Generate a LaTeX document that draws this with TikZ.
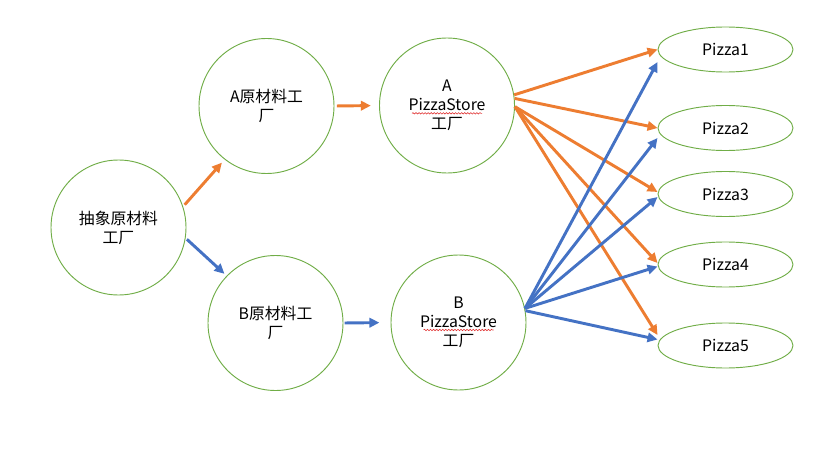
\documentclass[tikz,border=0pt]{standalone}
\usepackage{fontspec}
\newfontfamily\cjk{Noto Sans CJK SC}
\usetikzlibrary{arrows.meta,shapes.geometric,decorations.pathmorphing}
\definecolor{cLine}{HTML}{70AD47}
\definecolor{cOr}{HTML}{ED7D31}
\definecolor{cBl}{HTML}{4472C4}
\definecolor{cInk}{HTML}{000000}
\definecolor{cSpell}{HTML}{E03030}
\tikzset{
  every node/.style={font=\cjk\fontsize{13.5}{16.2}\selectfont, text=cInk},
  fac/.style={circle, draw=cLine, line width=0.8pt, minimum size=4.05cm, align=center, inner sep=0pt},
  piz/.style={ellipse, draw=cLine, line width=0.8pt, minimum width=4.05cm, minimum height=1.35cm, inner sep=0pt},
  oarr/.style={-{Triangle[length=8.5pt,width=8pt]}, line width=2.5pt, draw=cOr},
  barr/.style={-{Triangle[length=8.5pt,width=8pt]}, line width=2.5pt, draw=cBl},
  wavy/.style={draw=cSpell, line width=0.5pt, decorate, decoration={snake, amplitude=0.6pt, segment length=2.6pt}},
}
\begin{document}
\begin{tikzpicture}
\useasboundingbox (0,0) rectangle (25.02,13.47);
% ---------------- factories
\node[fac] (abs) at (3.555,6.645) {抽象原材料\\工厂};
\node[fac] (ara) at (7.995,10.29) {A原材料工\\厂};
\node[fac] (bra) at (8.265,3.78) {B原材料工\\厂};
\node[fac] (aps) at (13.41,10.305) {A\\PizzaStore\\工厂};
\node[fac] (bps) at (13.755,3.795) {B\\PizzaStore\\工厂};
\draw[wavy] ([shift={(-1.05,-0.235)}]aps.center) -- ([shift={(1.05,-0.235)}]aps.center);
\draw[wavy] ([shift={(-1.05,-0.225)}]bps.center) -- ([shift={(1.05,-0.225)}]bps.center);

% ---------------- pizzas
\foreach \i/\y in {1/11.985,2/9.63,3/7.65,4/5.535,5/3.105}{\node[piz] (p\i) at (21.765,\y) {Pizza\i};}

% ---------------- factory links
\draw[oarr, shorten <=2pt, shorten >=3.5pt] (abs.18) -- (ara.232);
\draw[barr, shorten <=1.5pt, shorten >=2.5pt] (abs.-9) -- (bra.136);
\draw[oarr, shorten <=2pt, shorten >=7pt] (ara.east) -- (aps.west);
\draw[barr, shorten <=1pt, shorten >=9.5pt] (bra.east) -- (bps.west);

% ---------------- stores to pizzas
\foreach \a/\n/\s in {9/1/0,6/2/0,-1/3/0.06,-1/4/0.045,-1/5/0.315}{\draw[oarr] (aps.\a) -- ([yshift=\s cm]p\n.west);}
\foreach \a/\n/\s in {12/1/-0.375,12/2/-0.3,12/3/-0.09,12/4/-0.06,10/5/0.18}{\draw[barr] (bps.\a) -- ([yshift=\s cm]p\n.west);}
\end{tikzpicture}
\end{document}
